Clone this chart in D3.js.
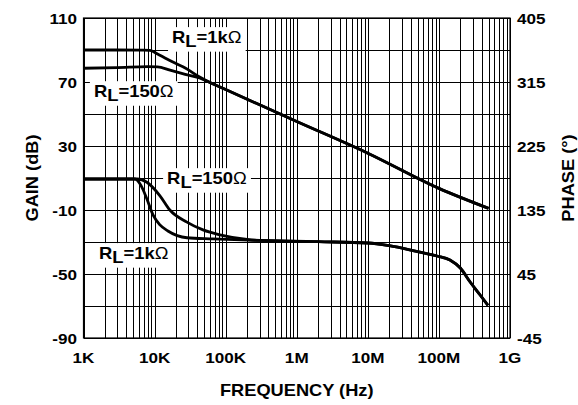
<!DOCTYPE html>
<html lang="en">
<head>
<meta charset="UTF-8">
<title>Gain and Phase vs Frequency</title>
<script src="https://d3js.org/d3.v7.min.js"></script>
<style>
  body { margin: 0; background: #fff; }
  svg text { font-family: "Liberation Sans", Arial, sans-serif; font-weight: bold; fill: #000; }
</style>
</head>
<body>
<div id="chart"></div>
<script>
const w = 578, h = 405;
const plotL = 83.5, plotR = 510, plotT = 18, plotB = 338;

// [frequency Hz, gain dB]
const gain1k = [[1e3, 90], [3e3, 90], [7e3, 89.9], [8.6e3, 89.7], [11e3, 87.5], [14e3, 85],
  [20e3, 81.5], [27e3, 78.7], [43e3, 73.1], [60e3, 69.7], [100e3, 65.3], [1e6, 45.3],
  [10e6, 25.5], [100e6, 3.5], [500e6, -9]];
const gain150 = [[1e3, 78.6], [3e3, 79], [8e3, 79.6], [11e3, 79.5], [16.5e3, 77.4], [27e3, 74.8],
  [43e3, 72.5], [60e3, 69.7], [100e3, 65.3], [1e6, 45.3], [10e6, 25.5], [100e6, 3.5], [500e6, -9]];

// [frequency Hz, phase deg]
const phase1k = [[1e3, 178.6], [5.3e3, 178.6], [6.4e3, 170], [7.8e3, 150.5], [9.5e3, 128],
  [11.9e3, 114], [15.4e3, 105.5], [28.5e3, 96], [66e3, 94.5], [300e3, 92.2], [2e6, 90.4],
  [10e6, 88.6], [20e6, 84.8], [50e6, 76.4], [94e6, 70.3], [143e6, 64.7], [200e6, 53.4],
  [275e6, 33.8], [380e6, 15.5], [490e6, 1]];
const phase150 = [[1e3, 178.6], [5.7e3, 178.6], [7.8e3, 174], [11.9e3, 155], [16.4e3, 135],
  [28.5e3, 118], [48e3, 107], [83e3, 100], [200e3, 93.5], [300e3, 92.2], [2e6, 90.4],
  [10e6, 88.6], [20e6, 84.8], [50e6, 76.4], [94e6, 70.3], [143e6, 64.7], [200e6, 53.4],
  [275e6, 33.8], [380e6, 15.5], [490e6, 1]];

const freqTicks = [1e3, 1e4, 1e5, 1e6, 1e7, 1e8, 1e9];
const freqLabels = ['1K', '10K', '100K', '1M', '10M', '100M', '1G'];
const gainTicks = [110, 70, 30, -10, -50, -90];
const phaseTicks = [405, 315, 225, 135, 45, -45];

// [main, sub, rest, freq, gain at baseline]
const labels = [
  ['R', 'L', '=1k', 17.6e3, 94.4],
  ['R', 'L', '=150', 1.4e3, 60.6],
  ['R', 'L', '=150', 15e3, 6.25],
  ['R', 'L', '=1k', 1.65e3, -40.6]
];

const x = d3.scaleLog().domain([1e3, 1e9]).range([plotL, plotR]);
const yGain = d3.scaleLinear().domain([-90, 110]).range([plotB, plotT]);
const yPhase = d3.scaleLinear().domain([-45, 405]).range([plotB, plotT]);

const svg = d3.select('#chart').append('svg')
  .attr('width', w).attr('height', h);

// grid
const vLines = [];
for (let e = 3; e < 9; e++) for (let k = 1; k < 10; k++) vLines.push(k * Math.pow(10, e));
vLines.push(1e9);
const grid = svg.append('g').attr('stroke', '#000').attr('stroke-width', 1)
  .attr('shape-rendering', 'crispEdges');
grid.selectAll('line.v').data(vLines).enter().append('line')
  .attr('x1', d => Math.round(x(d)) + 0.5).attr('x2', d => Math.round(x(d)) + 0.5)
  .attr('y1', plotT).attr('y2', plotB);
grid.selectAll('line.h').data(d3.range(-90, 111, 20)).enter().append('line')
  .attr('y1', d => Math.round(yGain(d)) + 0.5).attr('y2', d => Math.round(yGain(d)) + 0.5)
  .attr('x1', plotL).attr('x2', plotR);

// curves
const gLine = d3.line().x(d => x(d[0])).y(d => yGain(d[1])).curve(d3.curveMonotoneX);
const pLine = d3.line().x(d => x(d[0])).y(d => yPhase(d[1])).curve(d3.curveMonotoneX);
[gain150, gain1k].forEach(s => svg.append('path').attr('d', gLine(s))
  .attr('fill', 'none').attr('stroke', '#000').attr('stroke-width', 2.8));
[phase150, phase1k].forEach(s => svg.append('path').attr('d', pLine(s))
  .attr('fill', 'none').attr('stroke', '#000').attr('stroke-width', 2.8)
  .attr('stroke-linejoin', 'round'));

// stretched bold text like the datasheet
function txt(px, py, str, size, anchor, rot) {
  return svg.append('text')
    .attr('transform', `translate(${px},${py})${rot ? ' rotate(-90)' : ''} scale(1.14,1)`)
    .attr('text-anchor', anchor).style('font-size', size + 'px').text(str);
}

gainTicks.forEach(v => txt(77, yGain(v) + 5.5, v, 15, 'end'));
phaseTicks.forEach(v => txt(517, yPhase(v) + 5.5, v, 15, 'start'));
freqTicks.forEach((v, i) => txt(x(v), 363, freqLabels[i], 15, 'middle'));

txt((plotL + plotR) / 2, 396, 'FREQUENCY (Hz)', 16, 'middle');
txt(38, (plotT + plotB) / 2, 'GAIN (dB)', 16, 'middle', true);
txt(574, (plotT + plotB) / 2, 'PHASE (°)', 16, 'middle', true);

// curve labels on white boxes
labels.forEach(([a, sub, rest, f, g]) => {
  const grp = svg.append('g').attr('transform', `translate(${x(f)},${yGain(g)})`);
  const bg = grp.append('rect').attr('fill', '#fff');
  const t = grp.append('text').attr('transform', 'scale(1.15,1)').style('font-size', '16px');
  t.append('tspan').text(a);
  t.append('tspan').attr('dy', 4).text(sub);
  t.append('tspan').attr('dy', -4).text(rest);
  t.append('tspan').style('font-weight', 'normal').text('\u03A9');
  const b = t.node().getBBox();
  bg.attr('x', b.x * 1.15 - 4).attr('y', b.y - 1)
    .attr('width', b.width * 1.15 + 8).attr('height', b.height + 2);
});

// frame
svg.append('rect').attr('x', plotL).attr('y', plotT)
  .attr('width', plotR - plotL).attr('height', plotB - plotT)
  .attr('fill', 'none').attr('stroke', '#000').attr('stroke-width', 1.2);
</script>
</body>
</html>
